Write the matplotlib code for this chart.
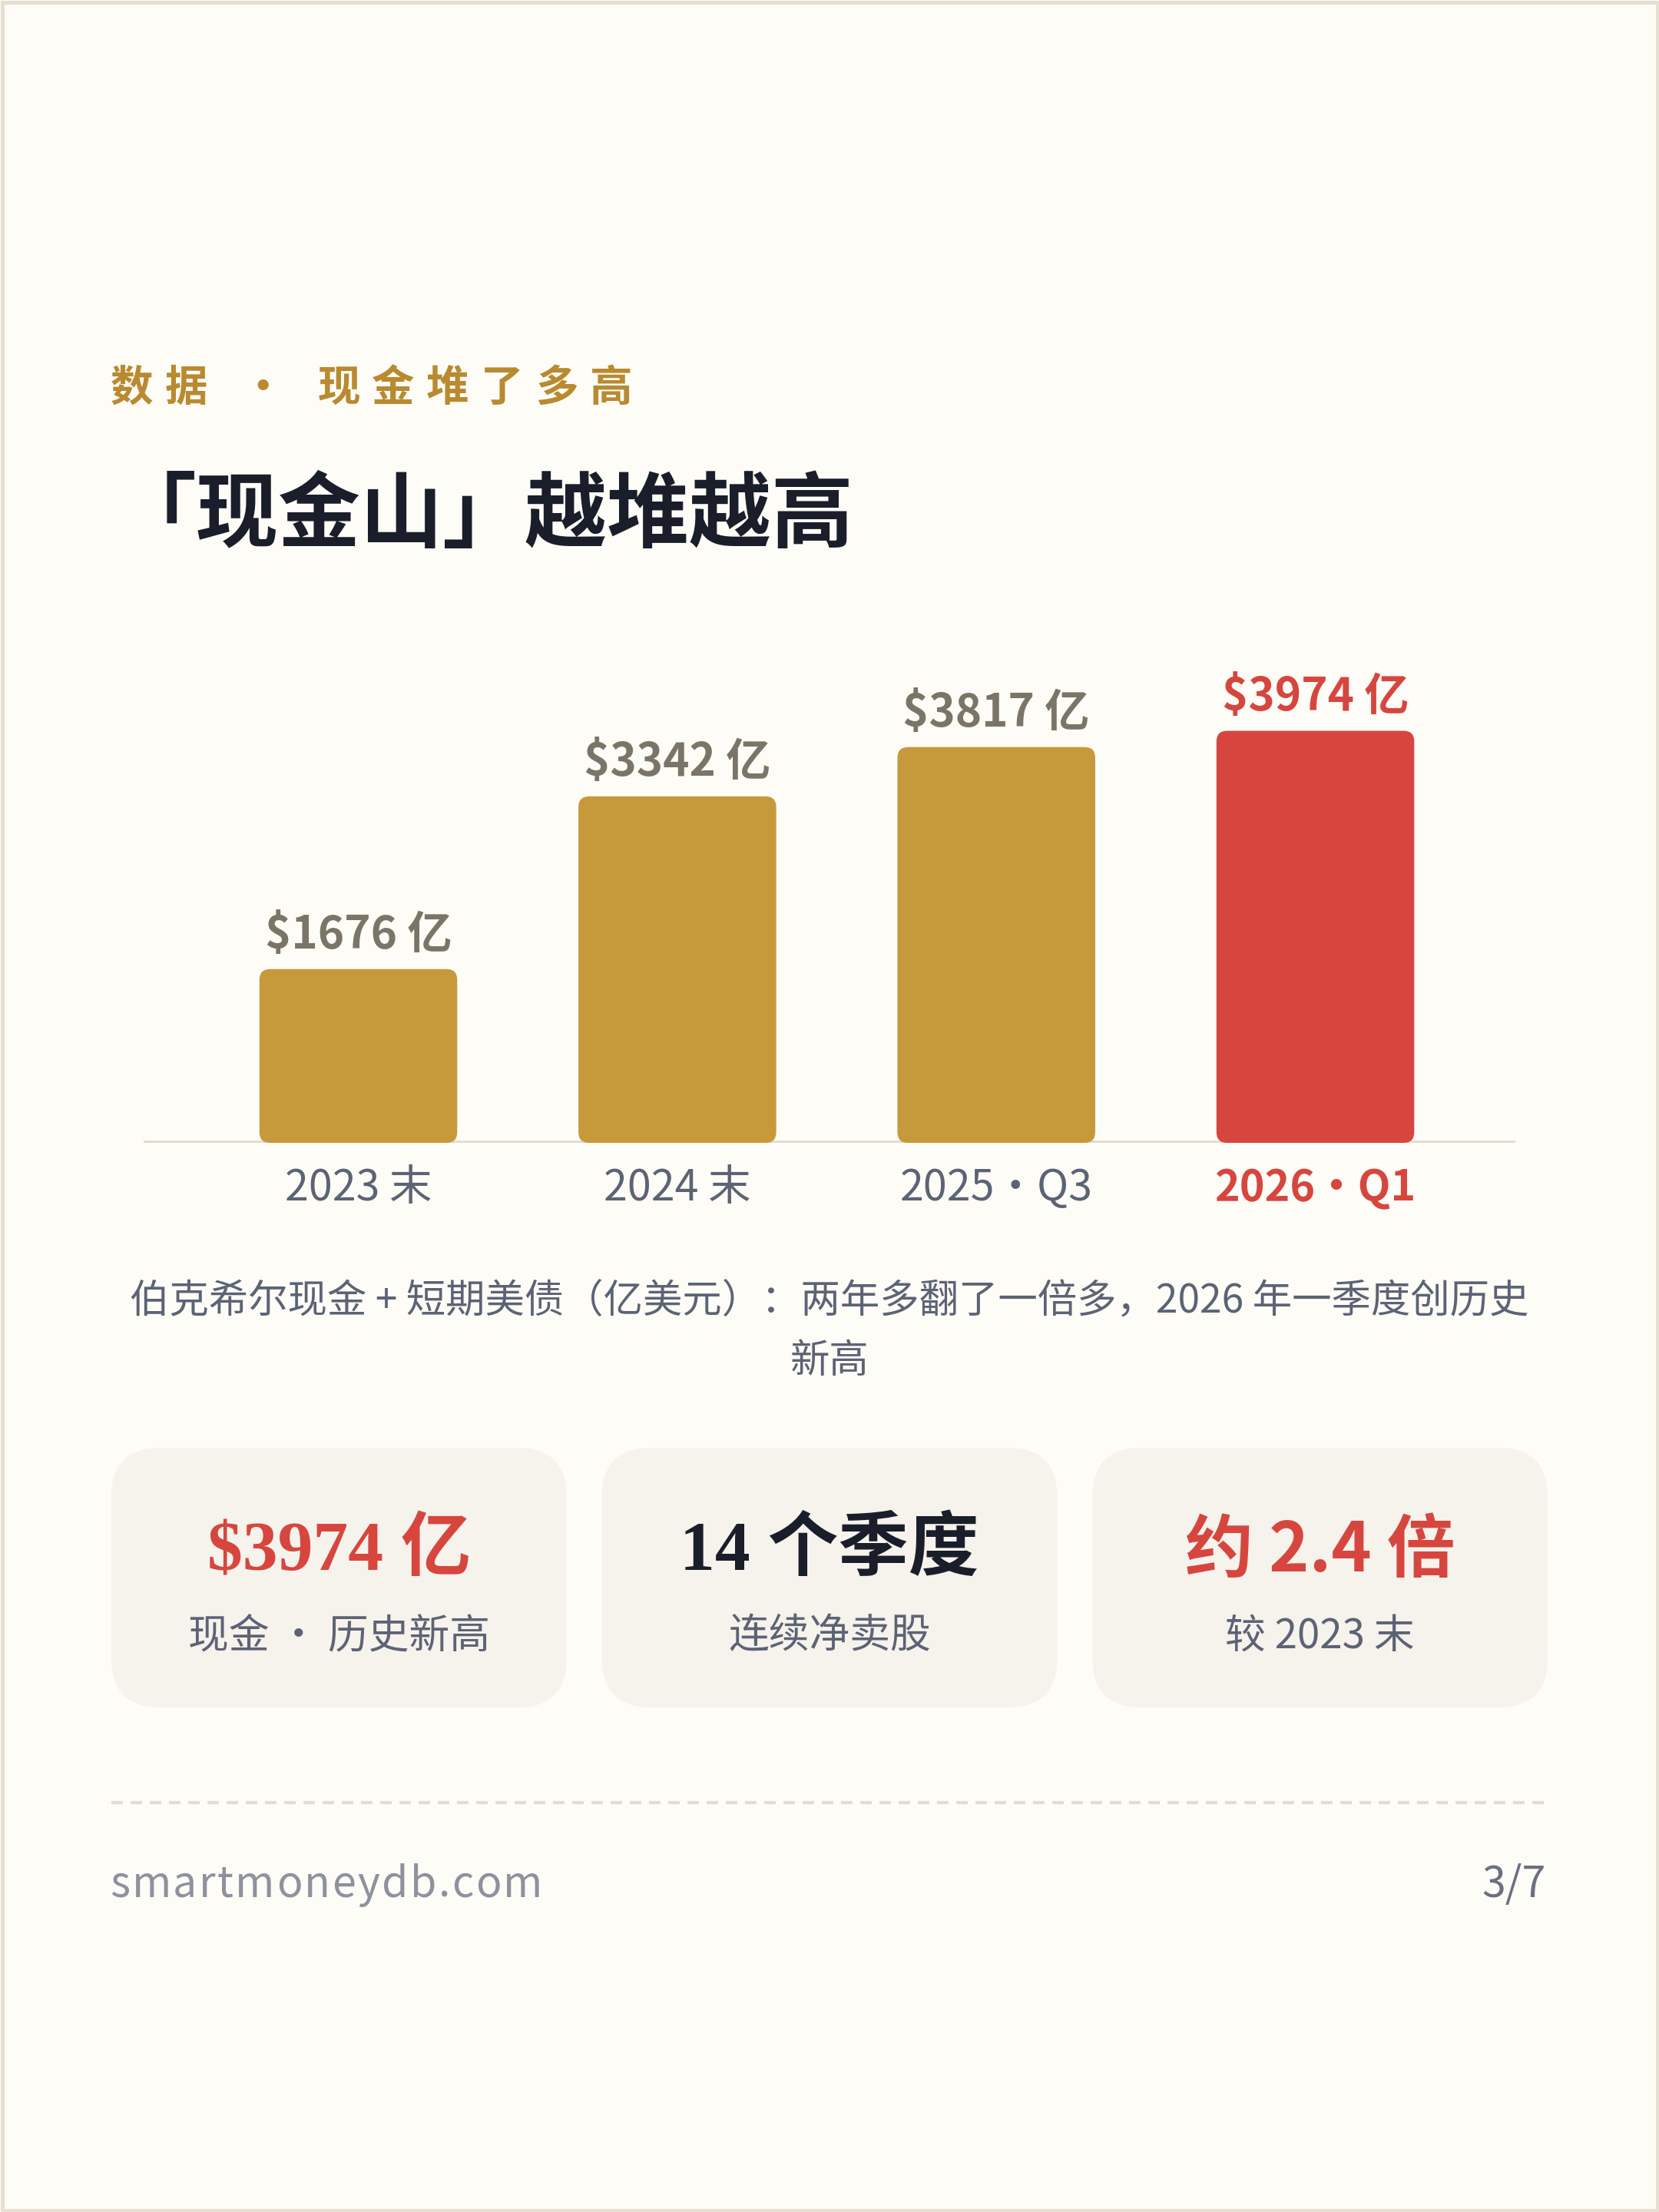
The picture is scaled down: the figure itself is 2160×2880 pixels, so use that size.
import matplotlib
matplotlib.use("Agg")
import matplotlib.pyplot as plt
from matplotlib.patches import FancyBboxPatch, Rectangle
from matplotlib.font_manager import FontProperties

plt.rcParams['font.family'] = ['Noto Sans CJK SC', 'DejaVu Sans']

# ---- data ----
categories = ['2023 末', '2024 末', '2025・Q3', '2026・Q1']
cash = [1676, 3342, 3817, 3974]          # 亿美元
highlight = [False, False, False, True]

kicker = '数据 ・ 现金堆了多高'
title = '「现金山」越堆越高'
caption_lines = ['伯克希尔现金 + 短期美债（亿美元）：两年多翻了一倍多，2026 年一季度创历史',
                 '新高']
card_values = ['$3974 亿', '14 个季度', '约 2.4 倍']
card_labels = ['现金 ・ 历史新高', '连续净卖股', '较 2023 末']
card_red = [True, False, True]
card_serif = [True, True, False]
site = 'smartmoneydb.com'
page = '3/7'

# ---- colours ----
BG = '#fdfcf7'
EDGE = '#e6dfd2'
GOLD = '#c69a3b'
RED = '#d6463f'
DARK = '#1a1e2a'
SLATE = '#5c6374'
GREY_LBL = '#7a7567'
CARD = '#f6f2ec'
LINE = '#e3ddcf'

W, H = 2160, 2880
DPI = 200
fig = plt.figure(figsize=(W / DPI, H / DPI), dpi=DPI)
fig.patch.set_facecolor(BG)

bg = fig.add_axes([0, 0, 1, 1])
bg.set_xlim(0, W)
bg.set_ylim(H, 0)
bg.axis('off')
bg.patch.set_alpha(0)

renderer = fig.canvas.get_renderer()


def advance(ch, prop):
    w1, _, _ = renderer.get_text_width_height_descent('|' + ch + '|', prop, ismath=False)
    w0, _, _ = renderer.get_text_width_height_descent('||', prop, ismath=False)
    return w1 - w0


def tracked(x, y, s, spacing, size, weight, color, family=None):
    fam = family or ['Noto Sans CJK SC', 'DejaVu Sans']
    prop = FontProperties(family=fam, size=size, weight=weight)
    for ch in s:
        a = advance(ch, prop)
        if ch != ' ':
            bg.text(x + a / 2, y, ch, ha='center', va='center', fontproperties=prop, color=color)
        x += a + spacing


# border
bg.add_patch(Rectangle((2.5, 2.5), W - 5, H - 5, fill=False, lw=1.8, edgecolor=EDGE))

# kicker + title
tracked(144, 506, kicker, 15.5, 20, 'bold', '#b98a30')
bg.text(149, 673, title, ha='left', va='center', fontsize=38.5, fontweight='bold', color=DARK)

# ---- bar chart ----
ax_l, ax_r, ax_b, ax_t = 187, 1973, 1488, 850
ax = fig.add_axes([ax_l / W, (H - ax_b) / H, (ax_r - ax_l) / W, (ax_b - ax_t) / H])
ax.patch.set_alpha(0)
for sp in ax.spines.values():
    sp.set_visible(False)
px_per_unit = 0.135
ax.set_xlim(-0.673, 3.627)
ax.set_ylim(0, (ax_b - ax_t) / px_per_unit)
ax.set_xticks([])
ax.set_yticks([])
ax.axhline(0, color=LINE, lw=2.2, zorder=0)

px_x = (ax_r - ax_l) / (ax.get_xlim()[1] - ax.get_xlim()[0])
px_y = (ax_b - ax_t) / (ax.get_ylim()[1] - ax.get_ylim()[0])
radius_px = 14

bar_colors = [RED if h else GOLD for h in highlight]
bars = ax.bar(range(len(cash)), cash, width=0.62, color=bar_colors)
for b, c in zip(bars, bar_colors):
    x0, y0, bw, bh = b.get_x(), b.get_y(), b.get_width(), b.get_height()
    b.remove()
    ax.add_patch(FancyBboxPatch((x0, y0), bw, bh,
                                boxstyle=f'round,pad=0,rounding_size={radius_px / px_x}',
                                mutation_aspect=px_x / px_y, facecolor=c, edgecolor='none', zorder=2))

for i, (v, h) in enumerate(zip(cash, highlight)):
    ax.annotate(f'${v} 亿', (i, v), xytext=(0, 9.7), textcoords='offset points',
                ha='center', va='baseline', fontsize=21, fontweight='bold',
                color=RED if h else GREY_LBL, annotation_clip=False)
    ax.annotate(categories[i], (i, 0), xytext=(0, -27), textcoords='offset points',
                ha='center', va='baseline', fontsize=20,
                fontweight='bold' if h else 'normal',
                color=RED if h else SLATE, annotation_clip=False)

# caption
for k, line in enumerate(caption_lines):
    bg.text(1080, 1695 + 77 * k, line, ha='center', va='center', fontsize=18.5, color=SLATE)

# ---- cards ----
card_x0, card_x1, gap = 145, 2015, 46
card_w = (card_x1 - card_x0 - 2 * gap) / 3
card_top, card_bot = 1885, 2223
for k in range(3):
    x = card_x0 + k * (card_w + gap)
    bg.add_patch(FancyBboxPatch((x, card_top), card_w, card_bot - card_top,
                                boxstyle='round,pad=0,rounding_size=64',
                                facecolor=CARD, edgecolor='none'))
    cx = x + card_w / 2
    fam = ['Liberation Serif', 'Noto Sans CJK SC'] if card_serif[k] else ['Noto Sans CJK SC', 'DejaVu Sans']
    bg.text(cx, 2020, card_values[k], ha='center', va='center',
            fontsize=33 if card_serif[k] else 32, fontweight='bold',
            family=fam, color=RED if card_red[k] else DARK)
    bg.text(cx, 2130, card_labels[k], ha='center', va='center', fontsize=19, color=SLATE)

# dashed rule + footer
bg.plot([card_x0, card_x1], [2347, 2347], color=LINE, lw=1.5, linestyle=(0, (3.6, 2.4)))
tracked(143, 2454, site, 2.4, 20, 'normal', '#8d929d')
bg.text(2013, 2454, page, ha='right', va='center', fontsize=20, color='#6b7080')

fig.savefig('out.png', dpi=DPI, facecolor=BG)
